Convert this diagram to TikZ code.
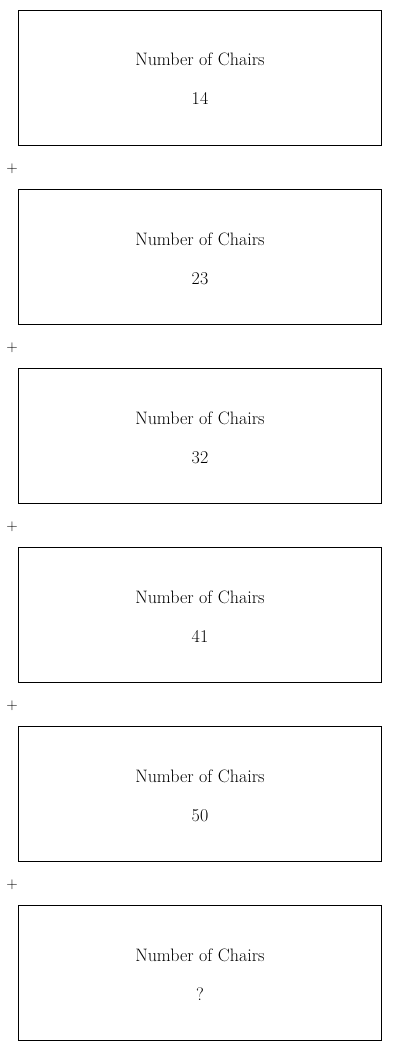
\documentclass[tikz,border=0pt]{standalone}
\begin{document}
\begin{tikzpicture}[x=1pt,y=-1pt,
  box/.style={draw,line width=0.9pt,minimum width=363pt,minimum height=135pt,inner sep=0pt},
  lbl/.style={anchor=base,inner sep=0pt,font=\fontsize{18}{21}\selectfont},
  plus/.style={inner sep=0pt,font=\sffamily\fontsize{15}{17}\selectfont}]
\useasboundingbox (0,0) rectangle (400,1051);
\foreach \i/\n in {0/14,1/23,2/32,3/41,4/50,5/?} {
  \node[box] (b\i) at (200,{78+179*\i}) {};
  \node[lbl] (t\i) at (200,{66+179*\i}) {Number of Chairs};
  \node[lbl] (n\i) at (200,{105+179*\i}) {\n};
}
\foreach \i in {0,...,4} {
  \node[plus] (p\i) at (12,{169+179*\i}) {+};
}
\end{tikzpicture}
\end{document}
